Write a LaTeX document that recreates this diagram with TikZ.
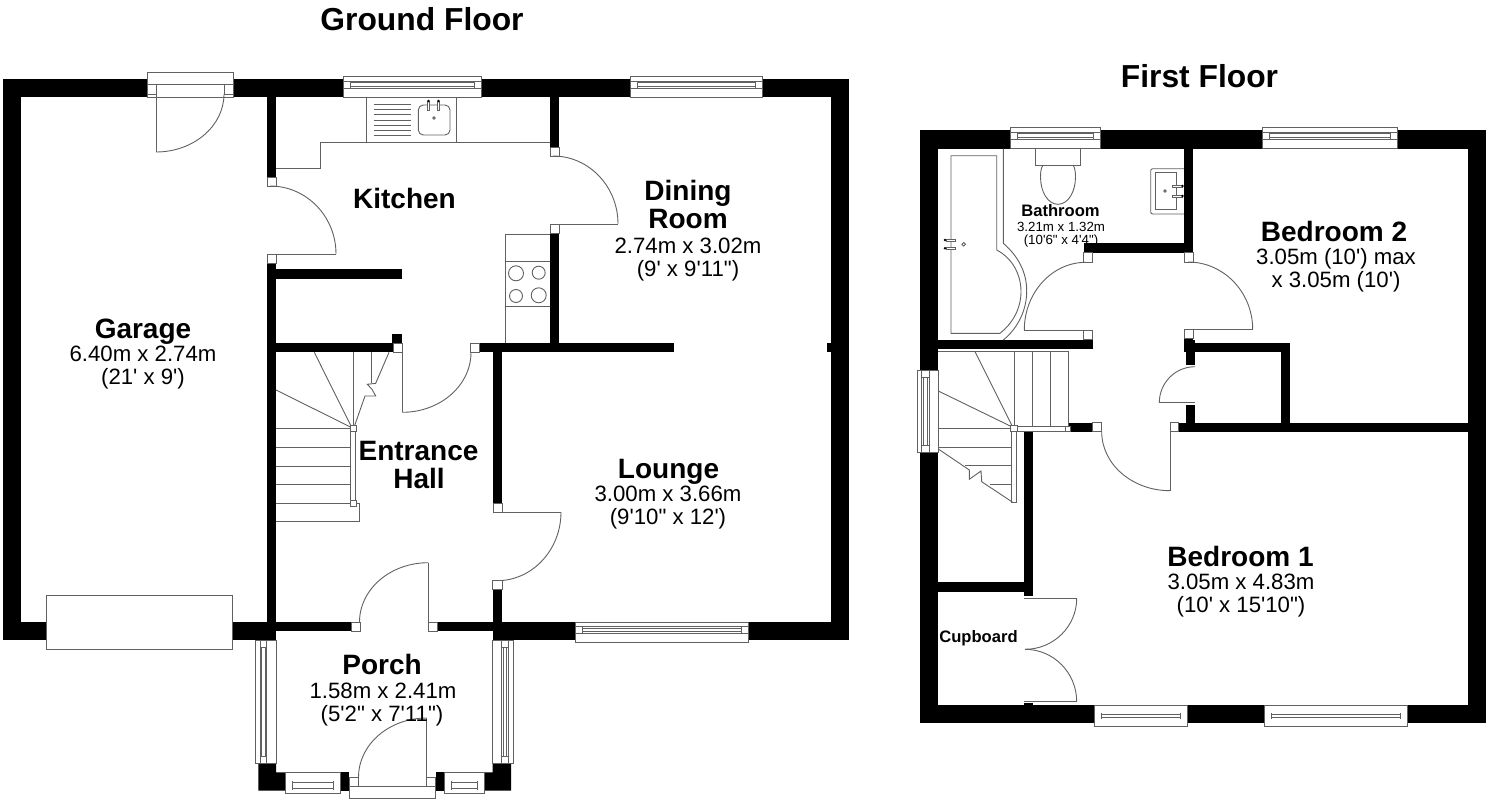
\documentclass[tikz,border=0pt]{standalone}
\usepackage{fontspec}
\usetikzlibrary{calc}
\newfontfamily\labfont{Liberation Sans}
\newcommand\wl[4]{\fill[wallfill] (#1,#2) rectangle (#3,#4);}
\newcommand\pst[4]{\filldraw[thin line,fill=white] (#1,#2) rectangle (#3,#4);}
\newcommand\qarc[6]{\draw[thin line] (#1,#2) .. controls ($(#1,#2)!.5523!(#3,#4)$) and ($(#5,#6)!.5523!(#3,#4)$) .. (#5,#6);}
\newcommand\winH[7]{% x1 x2 ya yb yi1 yi2 inset
  \filldraw[thin line,fill=white] (#1,#3) rectangle (#2,#4);
  \draw[thin line] (#1,#5) rectangle (#2,#6);
  \draw[thin line] ({#1+#7},#5) -- ({#1+#7},#6) ({#2-#7},#5) -- ({#2-#7},#6);
  \draw[thin line] ({#1+#7},{#5+1.6}) -- ({#2-#7},{#5+1.6}) ({#1+#7},{#6-1.6}) -- ({#2-#7},{#6-1.6});}
\newcommand\winB[6]{% x1 x2 ya yb yi1 yi2
  \filldraw[thin line,fill=white] (#1,#3) rectangle (#2,#4);
  \draw[thin line] ({#1+7},{#5-1.5}) -- ({#1+7},{#6+1.5}) ({#2-7},{#5-1.5}) -- ({#2-7},{#6+1.5});
  \draw[thin line] ({#1+7},#5) -- ({#2-7},#5) ({#1+7},#6) -- ({#2-7},#6);}
\newcommand\winV[6]{% xa xb y1 y2 xi1 xi2
  \filldraw[thin line,fill=white] (#1,#3) rectangle (#2,#4);
  \draw[thin line] (#5,#3) rectangle (#6,#4);
  \draw[thin line] (#5,{#3+7}) -- (#6,{#3+7}) (#5,{#4-7}) -- (#6,{#4-7});
  \draw[thin line] ({#5+1.6},{#3+7}) -- ({#5+1.6},{#4-7}) ({#6-1.6},{#3+7}) -- ({#6-1.6},{#4-7});}
\tikzset{
  wallfill/.style={fill=black},
  thin line/.style={draw=black!62,line width=0.9pt},
  title/.style={font=\labfont\bfseries\fontsize{31.8}{34}\selectfont,anchor=base,inner sep=0pt},
  roomname/.style={font=\labfont\bfseries\fontsize{28}{30}\selectfont,anchor=base,inner sep=0pt},
  roomdim/.style={font=\labfont\fontsize{22.2}{24}\selectfont,anchor=base,inner sep=0pt},
  smallname/.style={font=\labfont\bfseries\fontsize{16.6}{18}\selectfont,anchor=base,inner sep=0pt},
  smalldim/.style={font=\labfont\fontsize{13.3}{15}\selectfont,anchor=base,inner sep=0pt},
}
\begin{document}
\begin{tikzpicture}[x=1pt,y=-1pt]
\useasboundingbox (0,0) rectangle (1488,800);
\fill[white] (0,0) rectangle (1488,800);
% ================= GROUND FLOOR walls
\wl{2.5}{79}{849}{97}
\wl{2.5}{79}{20.5}{640}
\wl{831}{79}{849}{640}
\wl{2.5}{622}{46}{640}
\wl{232}{622}{276}{640}
\wl{276}{622}{351}{631}
\wl{437}{622}{493}{631}
\wl{493}{622}{849}{640}
\wl{267}{97}{276}{177}
\wl{267}{263}{276}{622}
\wl{276}{269}{401.5}{278.5}
\wl{550}{97}{559}{147}
\wl{550}{233}{559}{343}
\wl{479.7}{343.3}{674}{352.3}
\wl{827}{343.3}{831}{352.3}
\wl{493}{352}{502}{503.3}
\wl{493}{589.5}{502}{622}
\wl{276}{343.3}{393}{352.3}
\wl{392.3}{334.3}{401.7}{343.3}
% porch corners
\fill[wallfill] (258.3,763.3) -- (276,763.3) -- (276,772.3) -- (285,772.3) -- (285,790.7) -- (258.3,790.7) -- cycle;
\fill[wallfill] (484,772.3) -- (492.7,772.3) -- (492.7,763.3) -- (511,763.3) -- (511,790.7) -- (484,790.7) -- cycle;
\wl{340}{772.3}{349.3}{790.7}
\wl{435.7}{772.3}{444.3}{790.7}
% garage doors
\filldraw[thin line,fill=white] (46,595) rectangle (232,649);
\filldraw[thin line,fill=white] (147,72) rectangle (233,97);
\draw[thin line] (147,84) -- (233,84);
\pst{147}{84}{156}{94}
\pst{224}{84}{233}{94}
\draw[thin line] (156,94) -- (156,152);
\qarc{156}{152}{224}{152}{224}{94}
% windows ground floor
\winH{343}{481}{76}{97}{81.3}{88.3}{7}
\winH{630}{762}{76}{97}{81.3}{88.3}{7}
\winH{575}{748}{622}{642}{626.5}{633.5}{7}
\winV{255}{276}{640}{763}{260}{266.7}
\winV{492.7}{513.3}{640}{763}{501.7}{508.3}
\winB{285}{340}{772.3}{793}{782}{788}
\winB{444.3}{484}{772.3}{793}{782}{788}
% door posts ground floor
\pst{267}{177}{276}{186}
\pst{267}{254}{276}{263}
\draw[thin line] (276,254) -- (336,254);
\qarc{270}{186}{336}{186}{336}{254}
\pst{550}{147}{559}{156}
\pst{550}{224}{559}{233}
\draw[thin line] (559,224) -- (618,224);
\qarc{553}{156}{618}{156}{618}{224}
\pst{470}{343.3}{479.7}{352.3}
\pst{393}{343.3}{402.3}{352.3}
\draw[thin line] (402.3,352.3) -- (402.3,412.3);
\qarc{402.3}{412.3}{471}{412.3}{471}{352.3}
\pst{493}{503.3}{502}{512}
\draw[thin line] (502,512) -- (561,512);
\qarc{561}{512}{561}{580.7}{497}{580.7}
\pst{492.5}{580.7}{502}{589.7}
\pst{351}{622}{360}{631}
\pst{428.3}{622}{437}{631}
\draw[thin line] (428.3,622) -- (428.3,562.7);
\qarc{359.5}{622}{359.5}{562.7}{428.3}{562.7}
\pst{349.3}{777.3}{358.3}{786.7}
\pst{426.7}{777.3}{435.7}{786.7}
\draw[thin line] (426.7,777.3) -- (426.7,718);
\qarc{358.5}{777.3}{358.5}{718}{426.7}{718}
\draw[thin line] (349.3,786.7) rectangle (435.7,798.3);
% kitchen fittings
\draw[thin line] (276,168.7) -- (320.7,168.7) -- (320.7,142) -- (550,142);
\draw[thin line] (366.7,97) -- (366.7,142) (456.7,97) -- (456.7,142);
\foreach \yy in {104.3,109.5,114.7,120,125,130,135}
  \draw[thin line] (373.5,\yy) -- (411,\yy);
\draw[thin line,rounded corners=5pt] (418.3,105) rectangle (450,135);
\draw[thin line,fill=white] (427.3,101.5) rectangle (429.7,110.7);
\draw[thin line,fill=white] (437.3,101.5) rectangle (439.7,110.7);
\fill (428.5,101) circle (1.4);
\fill (438.5,101) circle (1.4);
\draw[thin line] (434,118) circle (1.3);
\draw[thin line] (505,343) -- (505,234.7) -- (550,234.7);
\draw[thin line] (505,261.7) -- (550,261.7) (505,306.7) -- (550,306.7);
\draw[thin line] (516,273.3) circle (7.5);
\draw[thin line] (538.7,272.7) circle (6.5);
\draw[thin line] (516,296) circle (6.5);
\draw[thin line] (538.7,295.3) circle (7.5);
% ground floor stairs
\foreach \yy in {428.7,447.3,466,484.3,503}
  \draw[thin line] (276,\yy) -- (350.5,\yy);
\draw[thin line] (276,521.3) -- (359.3,521.3) -- (359.3,503) -- (356.5,503);
\draw[thin line] (350.7,431.5) rectangle (355.7,500);
\draw[thin line] (353.3,352.3) -- (353.3,426);
\draw[thin line] (314.3,352.3) -- (351,426);
\draw[thin line] (276,390) -- (350.5,427);
\draw[thin line] (371.7,352.3) -- (371.7,383.3);
\draw[thin line] (389,352.3) -- (375.7,383.3) -- (367.3,384.3) -- (372,389.3) -- (375.7,396) -- (365,396) -- (354.5,426);
\pst{350}{425.7}{356.5}{431.7}
\pst{350}{500}{356.5}{506}
% ================= FIRST FLOOR walls
\wl{920}{130}{1486}{148.7}
\wl{920}{130}{938.3}{723.3}
\wl{1468}{130}{1486}{723.3}
\wl{920}{705}{1486}{723.3}
\wl{1184}{148.7}{1193.3}{252.7}
\wl{1084}{243.3}{1193.3}{252.7}
\wl{938.3}{340}{1092.7}{349.3}
\wl{1184}{338.7}{1193.3}{352}
\wl{1186}{340}{1195.3}{365}
\wl{1193}{342.7}{1290}{352.3}
\wl{1281}{342.7}{1290}{431}
\wl{1186}{405}{1195.3}{431}
\wl{1178.7}{422.7}{1468}{431.7}
\wl{1068.3}{422.7}{1092.7}{431.7}
\wl{1024.3}{431.7}{1033.3}{596}
\wl{938.3}{582.3}{1024.3}{591.7}
% windows first floor
\winH{1010}{1100}{127.3}{148.7}{132.3}{139.3}{7}
\winH{1262}{1397}{127.3}{148.7}{132.3}{139.3}{7}
\winB{1094.7}{1187.7}{705}{726}{714}{717.7}
\winB{1264}{1407}{705}{726}{714}{717.7}
\winV{917.3}{938.3}{370}{452.3}{921.7}{929.3}
% bath
\draw[thin line] (1003.3,148.7) -- (1003.3,243.3) .. controls (1018,256) and (1026.7,272) .. (1026.7,291) .. controls (1026.7,310) and (1018,328) .. (1003.3,340);
\draw[thin line] (1000,333.3) -- (951,333.3) -- (951,155.7) -- (996.7,155.7) -- (996.7,250) .. controls (1012,258) and (1021,274) .. (1021,291.7) .. controls (1021,309) and (1012,324) .. (1000,333.3);
\draw[thin line,fill=white] (946,239) rectangle (955,241);
\draw[thin line,fill=white] (946,247.3) rectangle (955,249.3);
\fill (945,240) circle (1.4);
\fill (945,248.3) circle (1.4);
\draw[thin line] (963.7,244.3) circle (1.8);
% toilet
\draw[thin line] (1035,148.7) -- (1035,165) -- (1080.7,165) -- (1080.7,148.7);
\draw[thin line] (1043,165) .. controls (1041,168) and (1040.5,172) .. (1040.5,177) .. controls (1040.5,192) and (1048,204.3) .. (1058,204.3) .. controls (1068,204.3) and (1075.5,192) .. (1075.5,177) .. controls (1075.5,172) and (1075,168) .. (1073,165);
% basin
\draw[thin line,rounded corners=2pt] (1184,168.7) -- (1150.7,168.7) -- (1150.7,214) -- (1184,214);
\draw[thin line] (1155,172.7) rectangle (1176.7,209.3);
\draw[thin line,fill=white] (1172.3,185) rectangle (1182,187.4);
\draw[thin line,fill=white] (1172.3,195) rectangle (1182,197.4);
\fill (1182.5,186) circle (1.4);
\fill (1182.5,196) circle (1.4);
\draw[thin line] (1165,191) circle (1.3);
% first floor doors
\pst{1083.3}{252.7}{1092.7}{262.3}
\pst{1184}{252.7}{1193.3}{262.3}
\pst{1083.3}{330}{1092.7}{339.5}
\pst{1184}{329.5}{1193.3}{338.7}
\qarc{1086}{262.3}{1024.3}{262.3}{1024.3}{330}
\draw[thin line] (1024.3,330) -- (1083.3,330);
\qarc{1188}{262}{1252.7}{262}{1252.7}{329.5}
\draw[thin line] (1252.7,329.5) -- (1193.3,329.5);
\qarc{1195}{366.7}{1159.3}{366.7}{1159.3}{402.7}
\draw[thin line] (1159.3,402.7) -- (1195,402.7);
\pst{1092.7}{422.7}{1101.7}{431.7}
\pst{1170}{422.7}{1178.7}{431.7}
\qarc{1101.7}{431.7}{1101.7}{490.7}{1170}{490.7}
\draw[thin line] (1170,490.7) -- (1170,431.7);
\draw[thin line] (1024.3,598.3) -- (1076.7,598.3);
\qarc{1076.7}{598.3}{1076.7}{649.3}{1025}{649.3}
\qarc{1025}{649.3}{1076.7}{649.3}{1076.7}{701.7}
\draw[thin line] (1076.7,701.7) -- (1024.3,701.7);
\wl{1024.3}{703.3}{1033.3}{705}
% first floor stairs
\draw[thin line] (938.3,351) -- (1068.3,351) -- (1068.3,426);
\foreach \xx in {1014,1032,1050}
  \draw[thin line] (\xx,351) -- (\xx,426);
\draw[thin line] (975,351.7) -- (1011.7,425);
\draw[thin line] (938.3,391) -- (1011.7,426.7);
\draw[thin line] (938.3,428.7) -- (1011.7,428.7);
\draw[thin line] (938.3,447.3) -- (1011.7,447.3);
\draw[thin line] (965,465.7) -- (1011.7,465.7);
\draw[thin line] (990,484.3) -- (1011.7,484.3);
\draw[thin line] (938.3,449) -- (969.3,470) -- (969.3,479.3) -- (981,471) -- (981.7,481.7) -- (1013.3,502.7);
\draw[thin line] (1011.7,431.7) rectangle (1016.7,502.7);
\draw[thin line] (1017,426.3) rectangle (1065,431);
\pst{1010.7}{425.3}{1017.3}{431.7}
\pst{1065}{426}{1070.7}{431.7}
% ================= LABELS
\node[title] (tgf) at (422,31) {Ground Floor};
\node[title] (tff) at (1199.5,87) {First Floor};
\node[roomname] (garage) at (143,338) {Garage};
\node[roomdim] (garaged1) at (143,361) {6.40m x 2.74m};
\node[roomdim] (garaged2) at (143,384) {(21' x 9')};
\node[roomname] (kitchen) at (404.5,208) {Kitchen};
\node[roomname] (dining1) at (688,200) {Dining};
\node[roomname] (dining2) at (688,228) {Room};
\node[roomdim] (diningd1) at (688,253) {2.74m x 3.02m};
\node[roomdim] (diningd2) at (688,276) {(9' x 9'11")};
\node[roomname] (lounge) at (668.5,478) {Lounge};
\node[roomdim] (lounged1) at (668,501) {3.00m x 3.66m};
\node[roomdim] (lounged2) at (668,524) {(9'10" x 12')};
\node[roomname] (hall1) at (418.5,460) {Entrance};
\node[roomname] (hall2) at (419,488) {Hall};
\node[roomname] (porch) at (382,674) {Porch};
\node[roomdim] (porchd1) at (383,698) {1.58m x 2.41m};
\node[roomdim] (porchd2) at (382,721) {(5'2" x 7'11")};
\node[smallname] (bath) at (1060.5,216) {Bathroom};
\node[smalldim] (bathd1) at (1061,231) {3.21m x 1.32m};
\node[smalldim] (bathd2) at (1061,244) {(10'6" x 4'4")};
\node[roomname] (bed2) at (1334,241) {Bedroom 2};
\node[roomdim] (bed2d1) at (1336,264) {3.05m (10') max};
\node[roomdim] (bed2d2) at (1336,287) {x 3.05m (10')};
\node[roomname] (bed1) at (1240.5,566) {Bedroom 1};
\node[roomdim] (bed1d1) at (1241,589) {3.05m x 4.83m};
\node[roomdim] (bed1d2) at (1241,612) {(10' x 15'10")};
\node[smallname] (cupboard) at (978.5,642.5) {Cupboard};
\end{tikzpicture}
\end{document}
